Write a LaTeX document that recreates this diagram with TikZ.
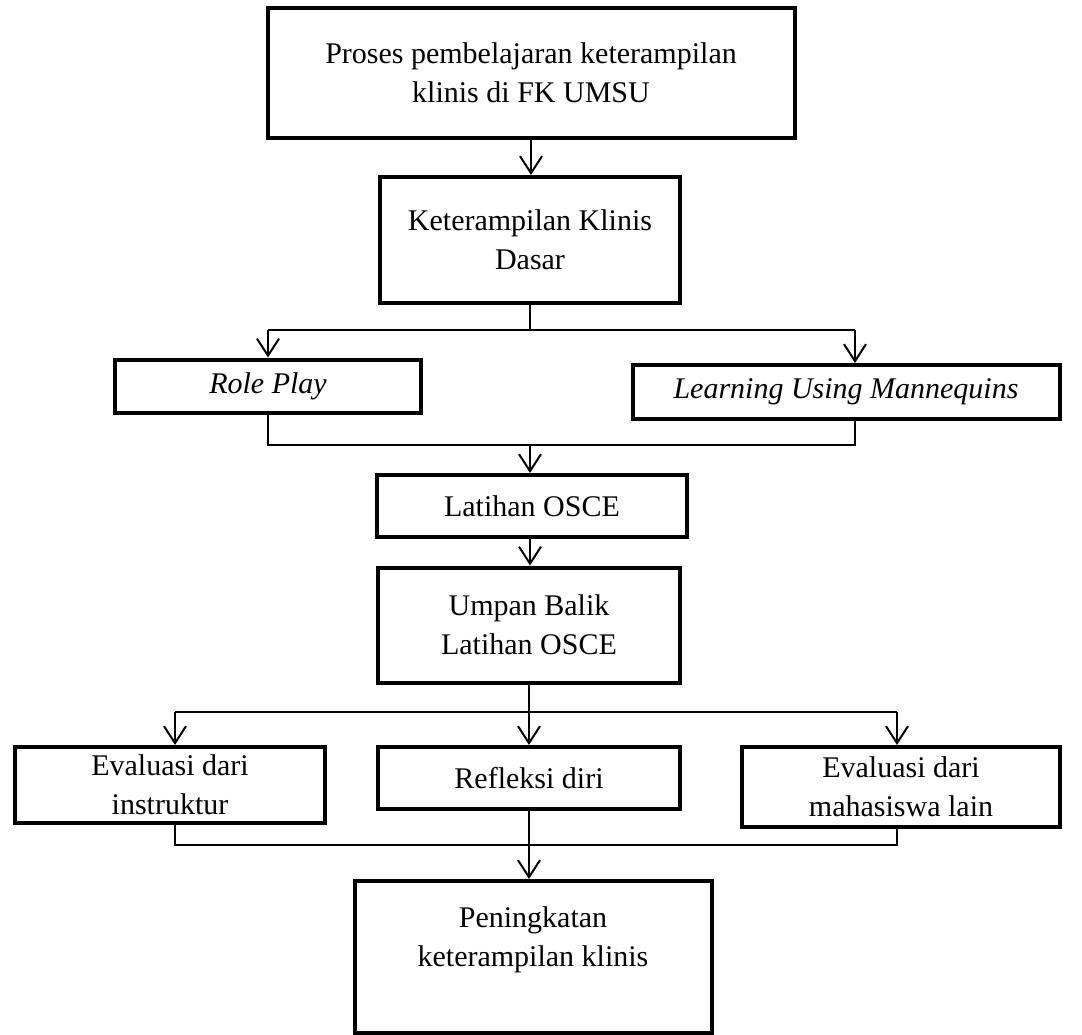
\documentclass[tikz,border=0pt]{standalone}
\usepackage{fontspec}
\setmainfont{Liberation Serif}
\usetikzlibrary{arrows.meta,calc}
\begin{document}
\begin{tikzpicture}[x=1pt,y=-1pt,
  box/.style={draw, line width=4pt, rectangle, align=center, inner sep=0pt,
    font=\fontsize{30}{39}\selectfont},
  conn/.style={line width=1.3pt},
  arr/.style={line width=2pt, -{Straight Barb[length=17pt,width=22pt]}}]
\useasboundingbox (0,0) rectangle (1082,1034);
\node[box, minimum width=527pt, minimum height=130pt] (p) at (531,73)
  {Proses pembelajaran keterampilan\\klinis di FK UMSU};
\node[box, minimum width=300pt, minimum height=126pt] (kd) at (530,240)
  {Keterampilan Klinis\\Dasar};
\node[box, minimum width=306pt, minimum height=53pt] (rp) at (268,386)
  {\itshape Role Play};
\node[box, minimum width=427pt, minimum height=54pt] (lm) at (846,392)
  {\itshape Learning Using Mannequins};
\node[box, minimum width=310pt, minimum height=62pt] (lo) at (532,506)
  {Latihan OSCE};
\node[box, minimum width=302pt, minimum height=115pt] (ub) at (529,625)
  {Umpan Balik\\Latihan OSCE};
\node[box, minimum width=310pt, minimum height=76pt] (ei) at (170,785)
  {Evaluasi dari\\instruktur};
\node[box, minimum width=302pt, minimum height=62pt] (rd) at (529,778)
  {Refleksi diri};
\node[box, minimum width=318pt, minimum height=80pt] (em) at (901,787)
  {Evaluasi dari\\mahasiswa lain};
\node[box, minimum width=357pt, minimum height=152pt, text depth=40pt] (pk) at (533,957)
  {Peningkatan\\keterampilan klinis};
% connectors
\draw[arr] (p.south) -- (p.south |- kd.north);
\coordinate (j1l) at (268,330);
\coordinate (j1r) at (855,330);
\draw[conn] (kd.south) -- (kd.south |- j1l);
\draw[conn] (j1l) -- (j1r);
\draw[arr] (j1l) -- (rp.north);
\draw[arr] (j1r) -- (j1r |- lm.north);
\coordinate (j2l) at (268,445);
\coordinate (j2r) at (855,445);
\draw[conn] (rp.south) -- (j2l) -- (j2r) -- (j2r |- lm.south);
\draw[arr] (kd.south |- j2l) -- (kd.south |- lo.north);
\draw[arr] (kd.south |- lo.south) -- (kd.south |- ub.north);
\coordinate (j3l) at (175,712);
\coordinate (j3r) at (897,712);
\draw[conn] (ub.south) -- (ub.south |- j3l);
\draw[conn] (j3l) -- (j3r);
\draw[arr] (j3l) -- (j3l |- ei.north);
\draw[arr] (ub.south |- j3l) -- (rd.north);
\draw[arr] (j3r) -- (j3r |- em.north);
\coordinate (j4l) at (175,845);
\coordinate (j4r) at (897,845);
\draw[conn] (j4l |- ei.south) -- (j4l) -- (j4r) -- (j4r |- em.south);
\draw[conn] (rd.south) -- (rd.south |- j4l);
\draw[arr] (rd.south |- j4l) -- (rd.south |- pk.north);
\end{tikzpicture}
\end{document}
